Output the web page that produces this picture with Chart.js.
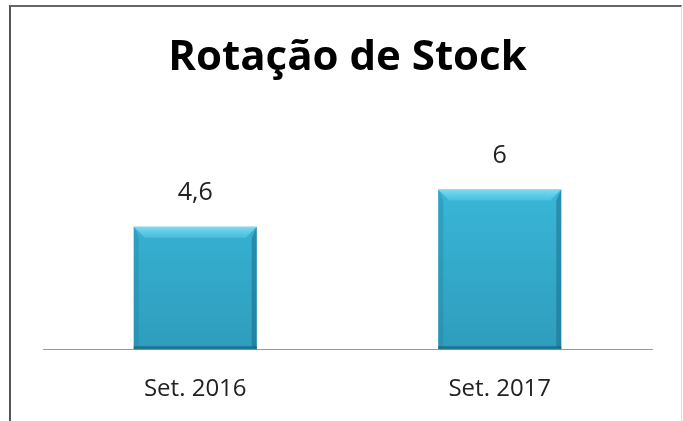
<!DOCTYPE html>
<html>
<head>
<meta charset="utf-8">
<script src="https://cdn.jsdelivr.net/npm/chart.js@4"></script>
<style>
  body { margin: 0; background: #fff; }
  #moldura { position: absolute; left: 9px; top: 5px; width: 670px; height: 430px;
             border-left: 2px solid #555; border-top: 2px solid #666; border-right: 1px solid #ddd; }
  #rotacao { position: absolute; left: 0; top: 0; }
</style>
</head>
<body>
<div id="moldura"></div>
<canvas id="rotacao" width="683" height="421"></canvas>
<script>
const periodos = ['Set. 2016', 'Set. 2017'];
const rotacao = [4.6, 6];
const rotulos = ['4,6', '6'];

// desenha o bisel e os valores por cima das barras
const biselBarras = {
    id: 'biselBarras',
    afterDatasetsDraw(chart) {
        const ctx = chart.ctx;
        const meta = chart.getDatasetMeta(0);
        meta.data.forEach(function (barra, i) {
            var l = barra.x - barra.width / 2;
            var r = barra.x + barra.width / 2;
            var t = barra.y;
            var b = barra.base;
            var s = 11;
            ctx.save();
            // topo claro
            var gt = ctx.createLinearGradient(0, t, 0, t + s);
            gt.addColorStop(0, 'rgba(140, 225, 245, 0.85)');
            gt.addColorStop(1, 'rgba(90, 205, 235, 0.5)');
            ctx.fillStyle = gt;
            ctx.beginPath();
            ctx.moveTo(l, t); ctx.lineTo(r, t); ctx.lineTo(r - s, t + s); ctx.lineTo(l + s, t + s);
            ctx.closePath(); ctx.fill();
            // lado esquerdo
            ctx.fillStyle = 'rgba(30, 130, 160, 0.35)';
            ctx.beginPath();
            ctx.moveTo(l, t); ctx.lineTo(l + 5, t + s); ctx.lineTo(l + 5, b - 3); ctx.lineTo(l, b);
            ctx.closePath(); ctx.fill();
            // lado direito
            ctx.fillStyle = 'rgba(20, 100, 130, 0.45)';
            ctx.beginPath();
            ctx.moveTo(r, t); ctx.lineTo(r - 5, t + s); ctx.lineTo(r - 5, b - 3); ctx.lineTo(r, b);
            ctx.closePath(); ctx.fill();
            // base
            ctx.fillStyle = 'rgba(20, 90, 115, 0.6)';
            ctx.fillRect(l, b - 3, r - l, 3);
            // valor
            ctx.fillStyle = '#222';
            ctx.font = '25px "Open Sans", sans-serif';
            ctx.textAlign = 'center';
            ctx.textBaseline = 'middle';
            ctx.fillText(rotulos[i], barra.x, t - 34);
            ctx.restore();
        });
    }
};

function corBarra(context) {
    const chart = context.chart;
    const area = chart.chartArea;
    if (!area) return '#34aecf';
    const g = chart.ctx.createLinearGradient(0, area.top, 0, area.bottom);
    g.addColorStop(0, '#3cbedf');
    g.addColorStop(1, '#2f9dbd');
    return g;
}

var ctx = document.getElementById('rotacao').getContext('2d');
let grafico = new Chart(ctx, {
    type: 'bar',
    data: {
        labels: periodos,
        datasets: [{
            data: rotacao,
            backgroundColor: corBarra,
            borderWidth: 0,
            barPercentage: 0.404,
            categoryPercentage: 1
        }]
    },
    options: {
        responsive: false,
        animation: false,
        layout: { padding: { left: 43, right: 31, top: 0, bottom: -1 } },
        plugins: {
            legend: { display: false },
            tooltip: { enabled: false },
            title: {
                display: true,
                text: 'Rotação de Stock',
                color: '#000',
                font: { family: '"Open Sans", sans-serif', size: 42, weight: 'bold' },
                padding: { top: 33, bottom: 53 }
            }
        },
        scales: {
            x: {
                grid: { display: false },
                border: { display: true, color: '#999', width: 1 },
                ticks: { color: '#222', font: { family: '"Open Sans", sans-serif', size: 24 }, padding: 18 }
            },
            y: {
                display: false,
                min: 0,
                max: 8
            }
        }
    },
    plugins: [biselBarras]
});
</script>
</body>
</html>
